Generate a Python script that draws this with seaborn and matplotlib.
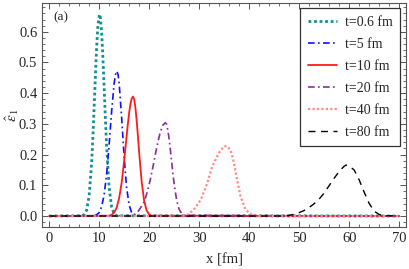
import matplotlib

matplotlib.use("Agg")
import matplotlib.pyplot as plt
import pandas as pd
import seaborn as sns
from matplotlib.ticker import FormatStrFormatter, MultipleLocator

# Values
T06_X = [0, 6.5, 7, 7.5, 8, 8.5, 8.75, 9, 9.25, 9.5, 9.75, 10.08, 10.25, 10.5,
         10.75, 11, 11.25, 11.5, 12, 12.5, 13, 13.5, 70]
T06_Y = [0, 0.001, 0.004, 0.019, 0.066, 0.174, 0.257, 0.353, 0.455, 0.549, 0.620,
         0.657, 0.647, 0.598, 0.518, 0.419, 0.318, 0.225, 0.093, 0.029, 0.007,
         0.001, 0]

T5_X = [0, 9, 9.5, 10, 10.5, 11, 11.5, 12, 12.5, 13, 13.3, 13.55, 13.8, 14, 14.5,
        15, 15.5, 16, 16.5, 17, 17.5, 70]
T5_Y = [0, 0.001, 0.004, 0.011, 0.030, 0.069, 0.136, 0.232, 0.341, 0.432, 0.463,
        0.472, 0.460, 0.433, 0.321, 0.192, 0.092, 0.036, 0.011, 0.003, 0.0, 0]

T10_X = [0, 12, 12.5, 13, 13.5, 14, 14.5, 15, 15.5, 15.75, 16, 16.25, 16.5, 16.77,
         17, 17.25, 17.5, 17.75, 18, 18.5, 19, 19.5, 20, 20.5, 70]
T10_Y = [0, 0.001, 0.004, 0.011, 0.027, 0.058, 0.108, 0.179, 0.261, 0.300, 0.336,
         0.364, 0.382, 0.389, 0.381, 0.354, 0.312, 0.262, 0.208, 0.113, 0.050,
         0.018, 0.005, 0.001, 0]

T20_X = [0, 16.25, 16.75, 17.25, 17.75, 18.25, 18.75, 19.25, 19.75, 20.25, 20.75,
         21.25, 21.75, 22.25, 22.75, 23.25, 23.5, 23.75, 24, 24.25, 24.5, 24.75,
         25, 25.5, 26, 26.5, 27, 70]
T20_Y = [0, 0.001, 0.003, 0.007, 0.014, 0.026, 0.038, 0.058, 0.086, 0.120, 0.159,
         0.201, 0.241, 0.274, 0.296, 0.304, 0.299, 0.279, 0.250, 0.215, 0.177,
         0.139, 0.105, 0.052, 0.022, 0.008, 0.002, 0]

T40_X = [0, 26.5, 27.6, 28.9, 30.3, 31.6, 32.6, 33.9, 34.9, 35.5, 36.3, 36.9, 37.6,
         38.3, 39.3, 40.6, 41.5, 70]
T40_Y = [0, 0.0, 0.003, 0.020, 0.052, 0.106, 0.160, 0.204, 0.226, 0.228, 0.215,
         0.177, 0.117, 0.063, 0.020, 0.003, 0.0, 0]

T80_X = [0, 47, 48, 49, 50, 51, 52, 53, 54, 55, 56, 57, 58, 59, 59.4, 60, 61, 62,
         63, 64, 65, 66, 67, 70]
T80_Y = [0, 0.0, 0.002, 0.006, 0.011, 0.018, 0.028, 0.040, 0.055, 0.075, 0.099,
         0.123, 0.145, 0.162, 0.166, 0.163, 0.150, 0.118, 0.078, 0.041, 0.016,
         0.005, 0.001, 0]

LABELS = ["t=0.6 fm", "t=5 fm", "t=10 fm", "t=20 fm", "t=40 fm", "t=80 fm"]
SERIES = [(T06_X, T06_Y), (T5_X, T5_Y), (T10_X, T10_Y), (T20_X, T20_Y),
          (T40_X, T40_Y), (T80_X, T80_Y)]
STYLES = [
    ("#138f8f", (0, (1, 1)), 2.0),
    ("#1010ff", (0, (4, 2, 1, 2)), 1.2),
    ("#ff1a1a", "-", 1.3),
    ("#8e2a9c", (0, (4, 2, 1, 2)), 1.2),
    ("#ff8a8a", (0, (1, 1)), 1.6),
    ("black", (0, (5, 4)), 1.0),
]

sns.set_style("ticks")
plt.rcParams["font.family"] = ["Liberation Serif", "DejaVu Serif"]
plt.rcParams["mathtext.fontset"] = "stix"

figure = plt.figure(figsize=(4.09, 2.69), dpi=100)
axis = figure.add_axes([0.103, 0.157, 0.890, 0.831])

for label, (xs, ys), (color, linestyle, width) in zip(LABELS, SERIES, STYLES):
    frame = pd.DataFrame({"x": xs, "y": ys})
    sns.lineplot(
        data=frame,
        x="x",
        y="y",
        color=color,
        linestyle=linestyle,
        linewidth=width,
        estimator=None,
        label=label,
        ax=axis,
    )

axis.set_xlim(-1.4, 71.4)
axis.set_ylim(-0.035, 0.693)
axis.xaxis.set_major_locator(MultipleLocator(10))
axis.xaxis.set_minor_locator(MultipleLocator(2))
axis.yaxis.set_major_locator(MultipleLocator(0.1))
axis.yaxis.set_minor_locator(MultipleLocator(0.02))
axis.yaxis.set_major_formatter(FormatStrFormatter("%.1f"))
axis.tick_params(which="both", direction="in", top=True, right=True,
                 color="#555555", labelsize=10.5)
axis.tick_params(which="major", length=4, width=0.7)
axis.tick_params(which="minor", length=2, width=0.6)
for spine in axis.spines.values():
    spine.set_color("#555555")
    spine.set_linewidth(0.8)

axis.set_xlabel("x [fm]", fontsize=10.5, labelpad=6)
axis.set_ylabel(r"$\hat{\epsilon}_1$", fontsize=11)
axis.yaxis.set_label_coords(-0.058, 0.5)
axis.text(0.8, 0.648, "(a)", fontsize=9.5, va="center", ha="left")

legend = axis.legend(
    loc="upper right",
    bbox_to_anchor=(0.984, 0.979),
    borderaxespad=0,
    fontsize=10,
    frameon=True,
    fancybox=False,
    framealpha=1,
    edgecolor="#333333",
    handlelength=2.1,
    labelspacing=0.65,
    borderpad=0.55,
    handletextpad=0.55,
)
legend.get_frame().set_linewidth(0.9)

figure.savefig("out.png", dpi=100)
